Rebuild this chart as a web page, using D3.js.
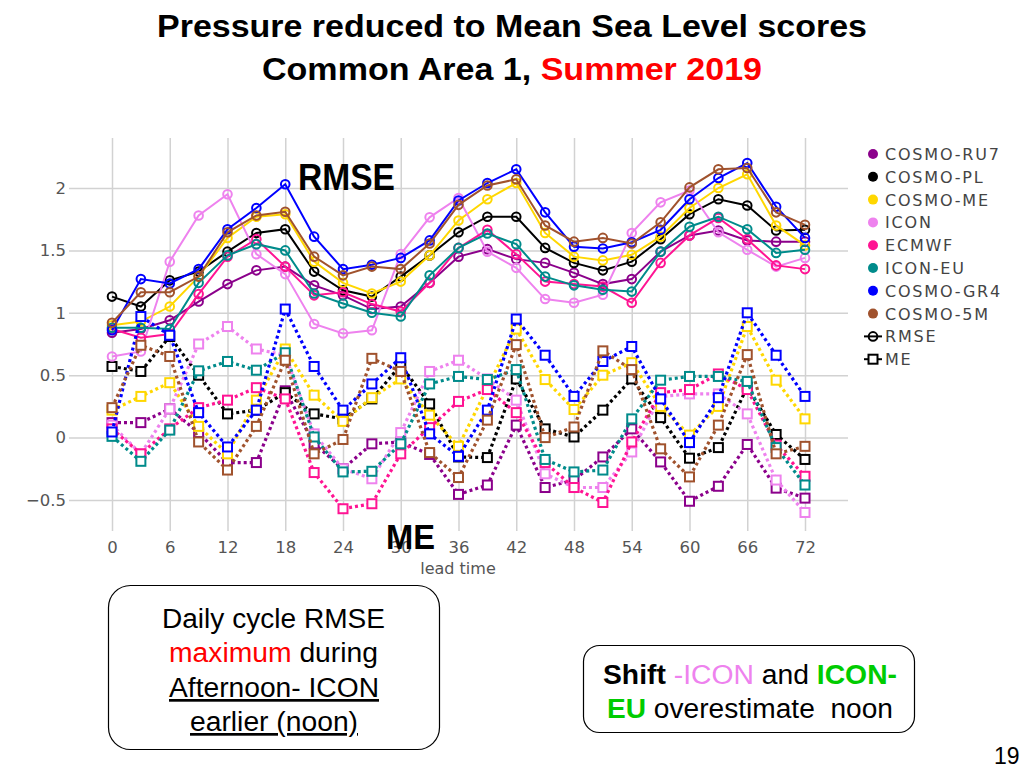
<!DOCTYPE html>
<html><head><meta charset="utf-8">
<script src="https://cdn.jsdelivr.net/npm/d3@7"></script>
<style>body{margin:0;background:#fff}svg{display:block}</style>
</head><body>
<svg id="c" width="1024" height="768"></svg>
<script>
// ---------- data ----------
const leadTimes = [0,3,6,9,12,15,18,21,24,27,30,33,36,39,42,45,48,51,54,57,60,63,66,69,72];
const xTicks = [0,6,12,18,24,30,36,42,48,54,60,66,72];
const yTicks = [-0.5,0,0.5,1,1.5,2];
const models = ["COSMO-RU7","COSMO-PL","COSMO-ME","ICON","ECMWF","ICON-EU","COSMO-GR4","COSMO-5M"];
const modelColors = ["#8b008b","#000000","#ffd700","#ee82ee","#ff1493","#008b8b","#0000ff","#a0522d"];

const rmseRU7 = [0.84,0.87,0.94,1.09,1.23,1.34,1.37,1.22,1.14,1.03,1.05,1.24,1.45,1.51,1.43,1.40,1.32,1.23,1.27,1.49,1.62,1.66,1.58,1.57,1.57];
const rmsePL  = [1.13,1.05,1.26,1.33,1.49,1.64,1.67,1.33,1.18,1.13,1.29,1.46,1.645,1.77,1.77,1.52,1.40,1.34,1.41,1.59,1.79,1.91,1.86,1.66,1.665];
const rmseME  = [0.90,0.93,1.05,1.29,1.60,1.77,1.79,1.41,1.24,1.155,1.25,1.46,1.74,1.91,2.04,1.64,1.45,1.42,1.465,1.61,1.84,2.0,2.11,1.70,1.54];
const rmseICON = [0.65,0.69,1.41,1.78,1.95,1.47,1.31,0.91,0.835,0.86,1.47,1.765,1.92,1.49,1.36,1.11,1.08,1.145,1.64,1.885,1.98,1.645,1.505,1.37,1.44];
const rmseECMWF = [0.87,0.80,0.83,1.15,1.45,1.59,1.37,1.14,1.165,1.07,1.01,1.24,1.52,1.665,1.47,1.25,1.23,1.21,1.08,1.40,1.62,1.76,1.59,1.38,1.35];
const rmseICONEU = [0.88,0.88,0.87,1.24,1.46,1.55,1.50,1.155,1.075,1.0,0.97,1.30,1.52,1.635,1.55,1.29,1.22,1.185,1.17,1.49,1.69,1.77,1.67,1.48,1.505];
const rmseGR4 = [0.86,1.27,1.235,1.35,1.67,1.84,2.03,1.61,1.35,1.385,1.44,1.58,1.90,2.04,2.15,1.805,1.53,1.515,1.565,1.665,1.91,2.08,2.20,1.85,1.60];
const rmse5M  = [0.92,1.165,1.165,1.29,1.645,1.78,1.81,1.45,1.30,1.37,1.35,1.555,1.865,2.02,2.07,1.70,1.57,1.60,1.555,1.725,2.005,2.15,2.16,1.805,1.705];

const meRU7 = [0.12,0.12,0.23,0.04,-0.20,-0.20,0.375,-0.05,-0.25,-0.05,-0.035,-0.135,-0.455,-0.38,0.10,-0.40,-0.34,-0.155,0.07,-0.195,-0.51,-0.39,-0.055,-0.405,-0.485];
const mePL  = [0.57,0.53,0.81,0.50,0.19,0.22,0.36,0.19,0.15,0.31,0.58,0.27,-0.155,-0.16,0.47,0.07,0.005,0.22,0.47,0.16,-0.165,-0.08,0.405,0.025,-0.175];
const meME  = [0.22,0.33,0.44,0.09,-0.13,0.30,0.71,0.34,0.13,0.32,0.47,0.18,-0.07,0.40,0.87,0.465,0.225,0.50,0.60,0.25,0.02,0.25,0.89,0.46,0.15];
const meICON = [0.10,-0.13,0.23,0.75,0.89,0.71,0.66,0.03,-0.25,-0.33,0.04,0.53,0.62,0.47,0.30,-0.29,-0.40,-0.40,-0.115,0.33,0.35,0.35,0.19,-0.34,-0.60];
const meECMWF = [0.07,-0.13,0.07,0.24,0.30,0.40,0.31,-0.28,-0.57,-0.53,-0.13,0.08,0.29,0.385,0.20,-0.20,-0.40,-0.52,-0.035,0.36,0.385,0.51,0.385,-0.06,-0.31];
const meICONEU = [0.01,-0.19,0.06,0.535,0.61,0.54,0.68,0.005,-0.275,-0.27,-0.05,0.43,0.49,0.465,0.545,-0.175,-0.275,-0.26,0.15,0.46,0.49,0.49,0.45,-0.08,-0.38];
const meGR4 = [0.045,0.97,0.82,0.20,-0.075,0.22,1.03,0.57,0.22,0.43,0.64,0.03,-0.15,0.22,0.95,0.66,0.33,0.61,0.73,0.31,-0.04,0.32,1.0,0.66,0.33];
const me5M  = [0.24,0.74,0.65,-0.035,-0.26,0.09,0.62,-0.13,-0.015,0.635,0.53,-0.12,-0.32,0.14,0.745,0.0,0.085,0.695,0.545,-0.09,-0.315,0.10,0.665,-0.13,-0.07];

const rmseSeries = [rmseRU7,rmsePL,rmseME,rmseICON,rmseECMWF,rmseICONEU,rmseGR4,rmse5M];
const meSeries = [meRU7,mePL,meME,meICON,meECMWF,meICONEU,meGR4,me5M];

// ---------- layout ----------
const svg = d3.select("#c");
svg.append("rect").attr("width",1024).attr("height",768).attr("fill","#fff");
const plotL = 69, plotR = 848, plotT = 138, plotB = 531;
const x = d3.scaleLinear().domain([0,72]).range([112,805]);
const y = d3.scaleLinear().domain([-0.5,2]).range([500,188]);
const gridColor = "#d2d2d2";
const tickFont = "'DejaVu Sans', Verdana, sans-serif";

// vertical grid + x labels
const gx = svg.append("g").attr("transform",`translate(0,${plotB})`)
  .call(d3.axisBottom(x).tickValues(xTicks).tickSize(-(plotB-plotT)).tickPadding(10));
gx.select(".domain").remove();
gx.selectAll("line").attr("stroke",gridColor).attr("stroke-width",1.5);
gx.selectAll("text").attr("fill","#555").style("font-family",tickFont).style("font-size","16.5px");

// horizontal grid + y labels
const gy = svg.append("g").attr("transform",`translate(${plotL},0)`)
  .call(d3.axisLeft(y).tickValues(yTicks).tickSize(-(plotR-plotL)).tickPadding(3)
    .tickFormat(d => d < 0 ? "\u2212" + Math.abs(d) : String(d)));
gy.select(".domain").remove();
gy.selectAll("line").attr("stroke",gridColor).attr("stroke-width",1.5);
gy.selectAll("text").attr("fill","#555").style("font-family",tickFont).style("font-size","16.5px");

svg.append("text").attr("x",458).attr("y",574).attr("text-anchor","middle")
  .attr("fill","#555").style("font-family",tickFont).style("font-size","16px").text("lead time");

// ---------- series ----------
const line = d3.line().x((d,i)=>x(leadTimes[i])).y(d=>y(d));
const series = svg.append("g");
models.forEach((m,k)=>{
  const c = modelColors[k];
  const g = series.append("g");
  // ME dotted
  g.append("path").attr("d",line(meSeries[k])).attr("fill","none").attr("stroke",c)
    .attr("stroke-width",3.2).attr("stroke-dasharray","3,3");
  g.selectAll("rect.me").data(meSeries[k]).enter().append("rect")
    .attr("x",(d,i)=>x(leadTimes[i])-4.5).attr("y",d=>y(d)-4.5)
    .attr("width",9).attr("height",9).attr("fill","#fff").attr("stroke",c).attr("stroke-width",2);
  // RMSE solid
  g.append("path").attr("d",line(rmseSeries[k])).attr("fill","none").attr("stroke",c).attr("stroke-width",2);
  g.selectAll("circle.rm").data(rmseSeries[k]).enter().append("circle")
    .attr("cx",(d,i)=>x(leadTimes[i])).attr("cy",d=>y(d)).attr("r",4.3)
    .attr("fill","none").attr("stroke",c).attr("stroke-width",2);
});

// ---------- legend ----------
const legFont = "'DejaVu Sans', Verdana, sans-serif";
const leg = svg.append("g");
models.forEach((m,k)=>{
  const yy = 154 + k*22.8;
  leg.append("circle").attr("cx",873).attr("cy",yy).attr("r",5).attr("fill",modelColors[k]);
  leg.append("text").attr("x",885).attr("y",yy+6).attr("fill","#444")
    .style("font-family",legFont).style("font-size","16px").style("letter-spacing","1.8px").text(m);
});
{
  const yy = 154 + 8*22.8;
  leg.append("line").attr("x1",864).attr("x2",882).attr("y1",yy).attr("y2",yy).attr("stroke","#000").attr("stroke-width",2);
  leg.append("circle").attr("cx",873).attr("cy",yy).attr("r",4.3).attr("fill","none").attr("stroke","#000").attr("stroke-width",2);
  leg.append("text").attr("x",885).attr("y",yy+6).attr("fill","#444")
    .style("font-family",legFont).style("font-size","16px").style("letter-spacing","1.8px").text("RMSE");
  const y2 = 154 + 9*22.8;
  leg.append("line").attr("x1",864).attr("x2",882).attr("y1",y2).attr("y2",y2).attr("stroke","#000").attr("stroke-width",2);
  leg.append("rect").attr("x",868.5).attr("y",y2-4.5).attr("width",9).attr("height",9).attr("fill","#fff").attr("stroke","#000").attr("stroke-width",2);
  leg.append("text").attr("x",885).attr("y",y2+6).attr("fill","#444")
    .style("font-family",legFont).style("font-size","16px").style("letter-spacing","1.8px").text("ME");
}

// ---------- labels ----------
const bold = "'Liberation Sans', Arial, sans-serif";
svg.append("text").attr("x",298).attr("y",190).attr("textLength",97).attr("lengthAdjust","spacingAndGlyphs")
  .style("font-family",bold).style("font-weight","bold").style("font-size","37px").text("RMSE");
svg.append("text").attr("x",386).attr("y",549).attr("textLength",49).attr("lengthAdjust","spacingAndGlyphs")
  .style("font-family",bold).style("font-weight","bold").style("font-size","35px").text("ME");

// title
svg.append("text").attr("x",157).attr("y",37).attr("textLength",710).attr("lengthAdjust","spacingAndGlyphs")
  .style("font-family",bold).style("font-weight","bold").style("font-size","32px")
  .text("Pressure reduced to Mean Sea Level scores");
const t2 = svg.append("text").attr("x",262).attr("y",80).attr("textLength",500).attr("lengthAdjust","spacingAndGlyphs")
  .style("font-family",bold).style("font-weight","bold").style("font-size","32px");
t2.append("tspan").attr("fill","#000").text("Common Area 1, ");
t2.append("tspan").attr("fill","#ff0000").text("Summer 2019");

// boxes
svg.append("rect").attr("x",108.5).attr("y",585.5).attr("width",331).attr("height",164).attr("rx",22)
  .attr("fill","#fff").attr("stroke","#000").attr("stroke-width",1.2);
svg.append("rect").attr("x",583.5).attr("y",645.5).attr("width",331).attr("height",87).attr("rx",16)
  .attr("fill","#fff").attr("stroke","#000").attr("stroke-width",1.2);

const nf = "'Liberation Sans', Arial, sans-serif";
function boxLine(xs, ys, w, parts, underline){
  const t = svg.append("text").attr("x",xs).attr("y",ys).attr("textLength",w).attr("lengthAdjust","spacingAndGlyphs")
    .style("font-family",nf).style("font-size","27px").style("white-space","pre");
  if (underline) t.style("text-decoration","underline");
  parts.forEach(p=>{
    const s = t.append("tspan").attr("fill",p.c||"#000").text(p.t);
    if (p.b) s.style("font-weight","bold");
  });
}
boxLine(162,628,223,[{t:"Daily cycle RMSE"}]);
boxLine(169,662,209,[{t:"maximum",c:"#ff0000"},{t:" during"}]);
boxLine(169,697,210,[{t:"Afternoon- ICON"}],true);
boxLine(190,731,168,[{t:"earlier (noon)"}],true);

boxLine(603,684,294,[{t:"Shift",b:true},{t:" -ICON",c:"#ee82ee"},{t:" and "},{t:"ICON-",c:"#00cc00",b:true}]);
boxLine(607,718,286,[{t:"EU",c:"#00cc00",b:true},{t:" overestimate\u00a0 noon"}]);

svg.append("text").attr("x",994).attr("y",764).style("font-family",nf).style("font-size","23px").text("19");
</script>
</body></html>
